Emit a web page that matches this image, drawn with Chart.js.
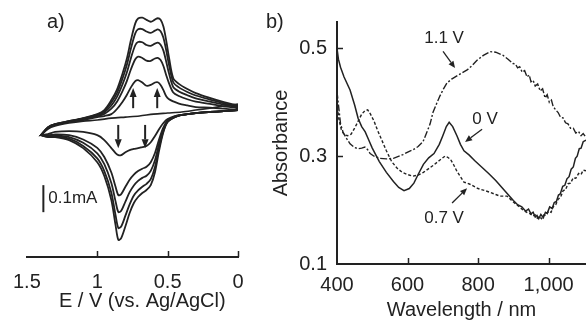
<!DOCTYPE html>
<html lang="en">
<head>
<meta charset="UTF-8">
<title>CV and absorbance spectra</title>
<script src="https://cdn.jsdelivr.net/npm/chart.js"></script>
<style>
  body { margin: 0; background: #fff; }
  #wrap { position: relative; width: 586px; height: 322px; overflow: hidden; }
  canvas { position: absolute; top: 0; }
  #cv { left: 0; }
  #uv { left: 260px; }
  .tag { position: absolute; font: 20px "Liberation Sans", Arial, sans-serif; color: #222; line-height: 20px; }
</style>
</head>
<body>
<div id="wrap">
  <canvas id="cv" width="260" height="322"></canvas>
  <canvas id="uv" width="326" height="322"></canvas>
  <div class="tag" style="left:47px;top:11px">a)</div>
  <div class="tag" style="left:266px;top:11px">b)</div>
</div>
<script>
const INK = '#222';
const FONT = '"Liberation Sans", Arial, sans-serif';

// a) cyclic voltammograms: potential (V), current (µA)
const upperE = [1.40, 1.35, 1.30, 1.20, 1.10, 1.00, 0.95, 0.90, 0.86, 0.82, 0.79, 0.76, 0.73, 0.71, 0.68,
  0.65, 0.62, 0.59, 0.57, 0.55, 0.53, 0.51, 0.49, 0.46, 0.42, 0.36, 0.30, 0.20, 0.10, 0.00];
const up1 = [-56, -26, -15, -4, 7, 22, 37, 74, 113, 173, 227, 298, 358, 376, 379, 371, 364, 372, 377, 371, 346, 294, 231, 155, 134, 115, 100, 82, 66, 52];
const up2 = [-56, -27, -15, -4, 6, 20, 33, 65, 100, 155, 204, 267, 321, 336, 337, 328, 323, 331, 336, 329, 305, 258, 204, 140, 121, 104, 91, 76, 62, 49];
const up3 = [-56, -27, -16, -5, 5, 18, 29, 54, 86, 133, 176, 231, 277, 289, 288, 278, 275, 283, 287, 279, 257, 216, 172, 122, 106, 92, 80, 68, 57, 46];
const up4 = [-56, -28, -17, -6, 3, 15, 23, 42, 68, 108, 144, 189, 225, 235, 230, 220, 219, 228, 230, 222, 200, 166, 136, 102, 89, 77, 68, 60, 51, 43];
const up5 = [-56, -30, -19, -7, 0, 11, 15, 22, 41, 68, 93, 122, 144, 148, 139, 127, 130, 139, 140, 130, 111, 88, 77, 69, 61, 54, 48, 46, 42, 37];

const lowerE = [1.40, 1.35, 1.30, 1.20, 1.10, 1.00, 0.95, 0.90, 0.87, 0.85, 0.83, 0.80, 0.77, 0.74, 0.71,
  0.68, 0.65, 0.62, 0.59, 0.56, 0.53, 0.50, 0.45, 0.40, 0.30, 0.20, 0.10, 0.00];
const low1 = [-56, -63, -63, -74, -104, -156, -207, -296, -389, -444, -437, -393, -344, -307, -285, -270, -259, -241, -193, -111, -44, -7, 11, 19, 26, 30, 33, 37];
const low2 = [-56, -62, -60, -69, -96, -142, -189, -269, -352, -400, -394, -354, -312, -279, -260, -247, -236, -219, -174, -100, -40, -6, 11, 19, 26, 30, 33, 37];
const low3 = [-56, -59, -57, -63, -84, -123, -163, -233, -301, -341, -336, -302, -267, -242, -225, -214, -206, -188, -149, -86, -33, -4, 11, 19, 26, 30, 33, 37];
const low4 = [-56, -57, -53, -56, -72, -103, -137, -194, -247, -278, -274, -247, -221, -202, -189, -180, -173, -156, -122, -70, -27, -2, 13, 19, 26, 30, 33, 37];
const low5 = [-56, -52, -44, -41, -44, -56, -74, -104, -122, -130, -130, -119, -111, -107, -104, -100, -96, -82, -59, -33, -11, 4, 15, 19, 26, 30, 33, 37];

const firstE = [1.40, 1.35, 1.30, 1.20, 1.10, 1.00, 0.90, 0.80, 0.70, 0.60, 0.50, 0.40, 0.30, 0.20, 0.10, 0.00];
const firstScan = [-56, -33, -22, -11, -4, 0, 7, 11, 15, 22, 26, 30, 37, 44, 52, 59];

const cvTicks = [1.5, 1, 0.5, 0];

// b) absorbance spectra
const wl0 = [400, 404, 410, 420, 437, 450, 460, 470, 480, 490, 500, 520, 540, 560, 575, 590, 605, 618, 630, 645,
  660, 675, 690, 700, 710, 718, 728, 740, 750, 760, 775, 790, 810, 830, 850, 870, 885, 900, 912, 924,
  935, 943, 950, 956, 962, 967, 972, 978, 985, 991, 996, 1003, 1010, 1016, 1022, 1028, 1033, 1040, 1046, 1052,
  1058, 1064, 1070, 1076, 1081, 1087, 1092, 1098, 1106];
const abs0 = [0.50, 0.48, 0.465, 0.447, 0.423, 0.395, 0.37, 0.355, 0.345, 0.33, 0.315, 0.29, 0.27, 0.253, 0.242, 0.236, 0.24, 0.25, 0.266, 0.285,
  0.297, 0.305, 0.322, 0.338, 0.355, 0.363, 0.355, 0.338, 0.322, 0.31, 0.302, 0.292, 0.28, 0.268, 0.255, 0.24, 0.229, 0.218, 0.21, 0.206,
  0.198, 0.202, 0.193, 0.196, 0.187, 0.190, 0.184, 0.192, 0.186, 0.196, 0.194, 0.206, 0.203, 0.214, 0.216, 0.228, 0.230, 0.244, 0.246, 0.258,
  0.262, 0.276, 0.280, 0.296, 0.300, 0.314, 0.315, 0.327, 0.330];

const wl07 = [400, 405, 412, 420, 430, 440, 450, 460, 470, 480, 487, 495, 505, 515, 525, 540, 555, 570, 585, 600,
  615, 630, 645, 660, 675, 690, 706, 714, 722, 730, 740, 750, 760, 777, 800, 825, 850, 862, 882, 900,
  915, 928, 940, 948, 955, 962, 968, 973, 980, 986, 992, 1000, 1007, 1013, 1020, 1027, 1034, 1041, 1048, 1055,
  1062, 1070, 1077, 1085, 1092, 1098, 1106];
const abs07 = [0.40, 0.37, 0.35, 0.34, 0.338, 0.341, 0.352, 0.365, 0.378, 0.385, 0.386, 0.378, 0.365, 0.348, 0.333, 0.31, 0.29, 0.278, 0.27, 0.266,
  0.263, 0.265, 0.27, 0.277, 0.284, 0.292, 0.30, 0.298, 0.294, 0.285, 0.272, 0.262, 0.252, 0.248, 0.24, 0.235, 0.229, 0.226, 0.226, 0.215,
  0.207, 0.200, 0.195, 0.193, 0.189, 0.191, 0.185, 0.188, 0.184, 0.191, 0.190, 0.198, 0.196, 0.206, 0.210, 0.220, 0.224, 0.236, 0.238, 0.249,
  0.250, 0.260, 0.259, 0.268, 0.266, 0.274, 0.273];

const wl11 = [400, 405, 410, 417, 425, 437, 450, 460, 470, 479, 487, 494, 505, 522, 540, 560, 587, 605, 616, 630,
  644, 655, 664, 672, 682, 692, 702, 712, 725, 740, 755, 769, 783, 797, 815, 834, 850, 871, 885, 899,
  906, 912, 918, 925, 932, 939, 945, 950, 956, 962, 969, 976, 983, 990, 996, 1002, 1008, 1013, 1020, 1027,
  1034, 1041, 1048, 1055, 1062, 1070, 1077, 1085, 1092, 1098, 1106];
const abs11 = [0.42, 0.39, 0.36, 0.345, 0.335, 0.323, 0.316, 0.314, 0.315, 0.317, 0.312, 0.305, 0.300, 0.296, 0.295, 0.296, 0.303, 0.309, 0.312, 0.318,
  0.327, 0.345, 0.360, 0.381, 0.397, 0.412, 0.425, 0.436, 0.443, 0.449, 0.455, 0.460, 0.468, 0.478, 0.487, 0.494, 0.493, 0.487, 0.480, 0.472,
  0.471, 0.464, 0.466, 0.456, 0.459, 0.447, 0.451, 0.438, 0.441, 0.430, 0.434, 0.421, 0.425, 0.408, 0.414, 0.400, 0.404, 0.392, 0.386, 0.381,
  0.372, 0.371, 0.362, 0.360, 0.352, 0.352, 0.343, 0.346, 0.338, 0.342, 0.335];

const wlTicks = [400, 600, 800, 1000];
const absTicks = [0.1, 0.3, 0.5];

function pts(xs, ys) {
  return xs.map((v, i) => ({ x: v, y: ys[i] }));
}

// forward scan (lower branch, 0 -> 1.4 V) then return (upper branch), closed at 0 V
function loop(low, up) {
  const fwd = pts(lowerE, low).reverse();
  return fwd.concat(pts(upperE, up), [fwd[0]]);
}

function arrow(ctx, x1, y1, x2, y2, len, half) {
  const a = Math.atan2(y2 - y1, x2 - x1);
  const bx = x2 - len * Math.cos(a), by = y2 - len * Math.sin(a);
  ctx.beginPath(); ctx.moveTo(x1, y1); ctx.lineTo(bx, by); ctx.stroke();
  if (!len) return;
  ctx.beginPath();
  ctx.moveTo(x2, y2);
  ctx.lineTo(bx + half * Math.sin(a), by - half * Math.cos(a));
  ctx.lineTo(bx - half * Math.sin(a), by + half * Math.cos(a));
  ctx.closePath(); ctx.fill();
}

// inner tick marks, arrows and in-plot labels, placed with the chart's scales
const overlay = {
  id: 'overlay',
  afterDatasetsDraw(chart, args, o) {
    const { ctx, chartArea: area, scales: { x, y } } = chart;
    ctx.save();
    ctx.strokeStyle = INK;
    ctx.fillStyle = INK;
    ctx.lineWidth = 1.5;
    (o.xTicks || []).forEach(v => {
      const px = Math.round(x.getPixelForValue(v)) + 0.5;
      ctx.beginPath(); ctx.moveTo(px, area.bottom); ctx.lineTo(px, area.bottom - 6); ctx.stroke();
    });
    (o.yTicks || []).forEach(v => {
      const py = Math.round(y.getPixelForValue(v)) + 0.5;
      ctx.beginPath(); ctx.moveTo(area.left, py); ctx.lineTo(area.left + 6, py); ctx.stroke();
    });
    (o.arrows || []).forEach(a => {
      ctx.lineWidth = a[4];
      arrow(ctx, x.getPixelForValue(a[0]), y.getPixelForValue(a[1]),
        x.getPixelForValue(a[2]), y.getPixelForValue(a[3]), a[5], a[6]);
    });
    ctx.textBaseline = 'middle';
    (o.labels || []).forEach(l => {
      ctx.font = l.size + 'px ' + FONT;
      ctx.textAlign = l.align || 'center';
      ctx.fillText(l.text, x.getPixelForValue(l.x), y.getPixelForValue(l.y));
    });
    ctx.restore();
  }
};

function line(data, dash, width, tension) {
  return {
    data: data, showLine: true, borderColor: INK, borderWidth: width,
    borderDash: dash, pointRadius: 0, tension: tension, fill: false
  };
}

new Chart(document.getElementById('cv'), {
  type: 'scatter',
  data: {
    datasets: [
      line(pts(firstE, firstScan), [], 1.6, 0.3),
      line(loop(low5, up5), [], 1.8, 0.3),
      line(loop(low4, up4), [], 1.8, 0.3),
      line(loop(low3, up3), [], 1.8, 0.3),
      line(loop(low2, up2), [], 1.8, 0.3),
      line(loop(low1, up1), [], 1.8, 0.3)
    ]
  },
  options: {
    responsive: false,
    animation: false,
    layout: { padding: { left: 26, right: 22, top: 5, bottom: 0 } },
    plugins: {
      legend: { display: false },
      tooltip: { enabled: false },
      overlay: {
        xTicks: [1, 0.5, 0],
        arrows: [
          [0.745, 44, 0.745, 119, 2, 9, 3.5],
          [0.574, 44, 0.574, 119, 2, 9, 3.5],
          [0.851, -18, 0.851, -104, 2, 9, 3.5],
          [0.66, -18, 0.66, -104, 2, 9, 3.5],
          [1.383, -241, 1.383, -341, 2, 0, 0]
        ],
        labels: [
          { text: '0.1mA', x: 1.348, y: -291, size: 17, align: 'left' },
          { text: 'E / V (vs. Ag/AgCl)', x: 0.68, y: -672, size: 20 }
        ]
      }
    },
    scales: {
      x: {
        type: 'linear', reverse: true, min: 0, max: 1.5,
        afterBuildTicks: s => { s.ticks = cvTicks.map(v => ({ value: v })); },
        afterFit: s => { s.height = 65; },
        grid: { display: false, drawTicks: false },
        border: { display: true, color: INK, width: 2 },
        ticks: { color: INK, font: { family: FONT, size: 20 }, padding: 13, maxRotation: 0, autoSkip: false,
          callback: v => String(v) }
      },
      y: { display: false, min: -507, max: 426 }
    }
  },
  plugins: [overlay]
});

new Chart(document.getElementById('uv'), {
  type: 'scatter',
  data: {
    datasets: [
      line(pts(wl11, abs11), [7, 2, 2, 2], 1.4, 0),
      line(pts(wl07, abs07), [3, 2], 1.4, 0),
      line(pts(wl0, abs0), [], 1.5, 0)
    ]
  },
  options: {
    responsive: false,
    animation: false,
    layout: { padding: { left: 0, right: 0, top: 18, bottom: 0 } },
    plugins: {
      legend: { display: false },
      tooltip: { enabled: false },
      overlay: {
        xTicks: [600, 800, 1000],
        yTicks: [0.3, 0.5],
        arrows: [
          [700.7, 0.4945, 734.8, 0.4635, 1.3, 7, 3],
          [811.4, 0.350, 763.1, 0.3265, 1.3, 7, 3],
          [726.3, 0.2132, 768.8, 0.2406, 1.3, 7, 3]
        ],
        labels: [
          { text: '1.1 V', x: 703.6, y: 0.519, size: 17 },
          { text: '0 V', x: 819.9, y: 0.3685, size: 17 },
          { text: '0.7 V', x: 703.6, y: 0.184, size: 17 }
        ]
      }
    },
    scales: {
      x: {
        type: 'linear', min: 400, max: 1106,
        afterBuildTicks: s => { s.ticks = wlTicks.map(v => ({ value: v })); },
        afterFit: s => { s.height = 58; },
        grid: { display: false, drawTicks: false },
        border: { display: true, color: INK, width: 2 },
        ticks: { color: INK, font: { family: FONT, size: 20 }, padding: 9, maxRotation: 0, autoSkip: false },
        title: { display: true, text: 'Wavelength / nm', color: INK, font: { family: FONT, size: 20 }, padding: { top: 0, bottom: 0 } }
      },
      y: {
        min: 0.1, max: 0.549,
        afterBuildTicks: s => { s.ticks = absTicks.map(v => ({ value: v })); },
        afterFit: s => { s.width = 77; },
        grid: { display: false, drawTicks: false },
        border: { display: true, color: INK, width: 2 },
        ticks: { color: INK, font: { family: FONT, size: 20 }, padding: 10, callback: v => v.toFixed(1) },
        title: { display: true, text: 'Absorbance', color: INK, font: { family: FONT, size: 20 }, padding: { top: 9, bottom: 0 } }
      }
    }
  },
  plugins: [overlay]
});
</script>
</body>
</html>
